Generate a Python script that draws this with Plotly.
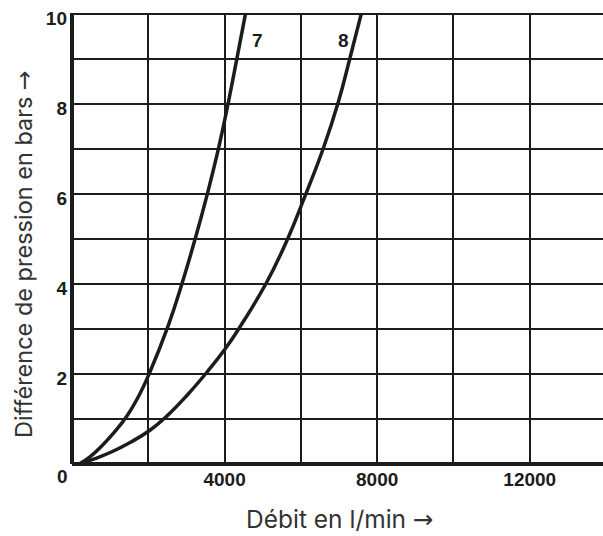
import plotly.graph_objects as go

# Data
curve7_q = [190, 470, 760, 1100, 1440, 1760, 2040, 2520, 2890, 3230, 3540, 3860, 4100, 4330, 4545]
curve7_p = [0, 0.16, 0.385, 0.70, 1.07, 1.53, 2.04, 3.07, 4.03, 5.01, 5.98, 7.09, 8.05, 9.05, 10.0]
curve8_q = [190, 605, 1045, 1547, 2053, 2492, 3018, 3545, 4008, 4403, 5097, 5650, 6105, 6600, 6982, 7290, 7579]
curve8_p = [0, 0.12, 0.273, 0.49, 0.756, 1.07, 1.53, 2.05, 2.55, 3.05, 4.03, 5.0, 5.95, 7.05, 8.05, 9.04, 10.0]

curve_names = ["7", "8"]
label_q = [4868, 7118]
label_p = [9.42, 9.42]

x_tickvals = [0, 2000, 4000, 6000, 8000, 10000, 12000, 14000]
x_ticktext = ["", "", "4000", "", "8000", "", "12000", ""]
y_tickvals = [1, 2, 3, 4, 5, 6, 7, 8, 9, 10]
y_ticktext = ["", "2", "", "4", "", "6", "", "8", "", "10"]

INK = "#1c1c1c"
NARROW = "Liberation Sans, Arial, sans-serif"
TITLEFONT = "Inter, Open Sans, sans-serif"
ARROW = '<span style="font-family:DejaVu Sans">→</span>'


def bold(labels):
    return [f"<b>{t}</b>" if t else "" for t in labels]


fig = go.Figure()
for q, p, name in [(curve7_q, curve7_p, curve_names[0]), (curve8_q, curve8_p, curve_names[1])]:
    fig.add_trace(go.Scatter(x=q, y=p, mode="lines", name=name,
                             line=dict(color=INK, width=3.5, shape="spline", smoothing=1.3),
                             hoverinfo="skip"))

for name, q, p in zip(curve_names, label_q, label_p):
    fig.add_annotation(x=q, y=p, text=f"<b>{name}</b>", showarrow=False,
                       font=dict(family=NARROW, size=19, color=INK))

fig.add_annotation(xref="paper", yref="paper", x=0, y=0, text="<b>0</b>", showarrow=False,
                   xanchor="center", yanchor="middle", xshift=-10, yshift=-12,
                   font=dict(family=NARROW, size=19, color=INK))

fig.add_annotation(xref="paper", yref="paper", x=0.5, y=0, text="Débit en l/min " + ARROW,
                   showarrow=False, xanchor="center", yanchor="middle", yshift=-55,
                   xshift=2, borderpad=0,
                   font=dict(family=TITLEFONT, size=24.5, color="#333333"))
fig.add_annotation(xref="paper", yref="paper", x=0, y=0.4656,
                   text="Différence de pression en bars " + ARROW,
                   showarrow=False, textangle=-90, xanchor="center", yanchor="middle", xshift=-49,
                   font=dict(family=TITLEFONT, size=23.5, color="#333333"))

fig.update_xaxes(range=[0, 13920], tickvals=x_tickvals, ticktext=bold(x_ticktext),
                 showgrid=True, gridcolor=INK, gridwidth=1.5,
                 showline=False, zeroline=True, zerolinecolor=INK, zerolinewidth=3.5,
                 ticks="", ticklabelstandoff=2, tickfont=dict(family=NARROW, size=19, color=INK))
fig.update_yaxes(range=[0, 10.03], tickvals=y_tickvals, ticktext=bold(y_ticktext),
                 showgrid=True, gridcolor=INK, gridwidth=1.5,
                 showline=False, zeroline=True, zerolinecolor=INK, zerolinewidth=3.5,
                 ticks="", ticklabelshift=4, ticklabelstandoff=4,
                 tickfont=dict(family=NARROW, size=19, color=INK))

fig.update_layout(width=603, height=536, margin=dict(l=72, r=0, t=13, b=72),
                  plot_bgcolor="white", paper_bgcolor="white", showlegend=False)

fig.write_html("out.html", config={"displayModeBar": False})
